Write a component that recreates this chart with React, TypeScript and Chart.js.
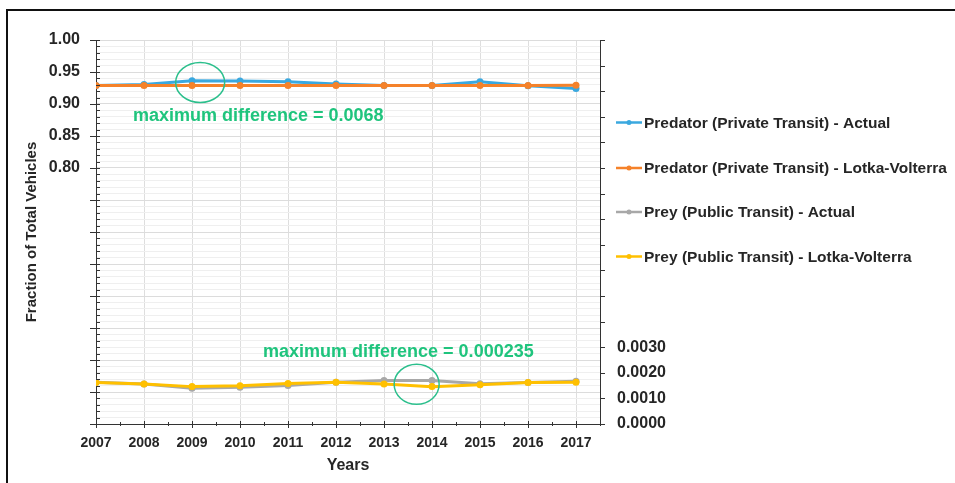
import React, { useEffect, useRef } from 'react';
import { Chart, registerables } from 'chart.js';

Chart.register(...registerables);

const years = [2007, 2008, 2009, 2010, 2011, 2012, 2013, 2014, 2015, 2016, 2017];
const predatorActual = [0.929, 0.9305, 0.9365, 0.936, 0.9347, 0.9312, 0.929, 0.929, 0.9347, 0.9285, 0.9243];
const predatorLV = [0.929, 0.929, 0.929, 0.929, 0.929, 0.929, 0.929, 0.929, 0.929, 0.929, 0.9293];
const preyActual = [0.00163, 0.00156, 0.0014, 0.00144, 0.0015, 0.00163, 0.0017, 0.0017, 0.00157, 0.00162, 0.00167];
const preyLV = [0.00162, 0.00156, 0.00146, 0.00149, 0.00158, 0.00163, 0.00156, 0.00146, 0.00153, 0.00162, 0.00163];
const leftTickLabels = [1.0, 0.95, 0.9, 0.85, 0.8];
const rightTickLabels = [0.003, 0.002, 0.001, 0.0];
const seriesNames = [
  'Predator (Private Transit) - Actual',
  'Predator (Private Transit) - Lotka-Volterra',
  'Prey (Public Transit) - Actual',
  'Prey (Public Transit) - Lotka-Volterra',
];
const seriesColors = ['#3aa8df', '#f5822a', '#a8a8a8', '#ffc000'];
const annotations = [
  { text: 'maximum difference = 0.0068', x: 2007.77, y: 0.8813, axis: 'y' },
  { text: 'maximum difference = 0.000235', x: 2010.48, y: 0.00281, axis: 'y1' },
];
const circles = [
  { x: 2009.17, y: 0.9335, axis: 'y', rx: 24.5, ry: 20 },
  { x: 2013.68, y: 0.00155, axis: 'y1', rx: 22.5, ry: 20 },
];

const FONT = '"Liberation Sans", Arial, sans-serif';
const TEXT = '#262626';
const GREEN = '#1fc47d';

const near = (a: number, b: number) => Math.abs(a - b) < 1e-6;
const isInt = (v: number) => near(v, Math.round(v));

const overlay = {
  id: 'overlay',
  afterDraw(chart: any) {
    const ctx = chart.ctx;
    const xs = chart.scales.x;
    const ys = chart.scales.y;
    const y1 = chart.scales.y1;
    const area = chart.chartArea;
    ctx.save();
    ctx.strokeStyle = '#333';
    ctx.lineWidth = 1;
    ys.ticks.forEach((t: any) => {
      const py = Math.round(ys.getPixelForValue(t.value)) + 0.5;
      const major = isInt(t.value * 20);
      ctx.beginPath();
      ctx.moveTo(area.left - (major ? 6 : 0), py);
      ctx.lineTo(area.left + 4, py);
      ctx.stroke();
    });
    y1.ticks.forEach((t: any) => {
      const py = Math.round(y1.getPixelForValue(t.value)) + 0.5;
      ctx.beginPath();
      ctx.moveTo(area.right, py);
      ctx.lineTo(area.right + 5, py);
      ctx.stroke();
    });
    for (let k = 0; k <= (years.length - 1) * 2 + 1; k++) {
      const v = years[0] + k * 0.5;
      const px = Math.round(xs.getPixelForValue(v)) + 0.5;
      const major = k % 2 === 0;
      ctx.beginPath();
      ctx.moveTo(px, area.bottom - (major ? 3 : 2));
      ctx.lineTo(px, area.bottom + (major ? 4 : 2));
      ctx.stroke();
    }
    ctx.strokeStyle = '#2bbf8c';
    ctx.lineWidth = 1.5;
    circles.forEach((c) => {
      const cx = xs.getPixelForValue(c.x);
      const cy = chart.scales[c.axis].getPixelForValue(c.y);
      ctx.beginPath();
      ctx.ellipse(cx, cy, c.rx, c.ry, 0, 0, Math.PI * 2);
      ctx.stroke();
    });
    ctx.fillStyle = GREEN;
    ctx.font = `bold 18px ${FONT}`;
    ctx.textAlign = 'left';
    ctx.textBaseline = 'middle';
    annotations.forEach((a) => {
      ctx.fillText(a.text, xs.getPixelForValue(a.x), chart.scales[a.axis].getPixelForValue(a.y));
    });
    const legY = [122.5, 168, 212, 256.5];
    ctx.font = `bold 15.5px ${FONT}`;
    seriesNames.forEach((n, i) => {
      const yy = legY[i];
      ctx.strokeStyle = seriesColors[i];
      ctx.lineWidth = 2.5;
      ctx.beginPath();
      ctx.moveTo(616, yy);
      ctx.lineTo(642, yy);
      ctx.stroke();
      ctx.fillStyle = seriesColors[i];
      ctx.beginPath();
      ctx.arc(629, yy, 2.5, 0, Math.PI * 2);
      ctx.fill();
      ctx.fillStyle = TEXT;
      ctx.fillText(n, 644, yy + 1);
    });
    ctx.fillStyle = TEXT;
    ctx.font = `bold 16px ${FONT}`;
    ctx.textAlign = 'center';
    ctx.fillText('Years', (area.left + area.right) / 2, 466);
    ctx.save();
    ctx.translate(32, (area.top + area.bottom) / 2);
    ctx.rotate(-Math.PI / 2);
    ctx.font = `bold 15px ${FONT}`;
    ctx.fillText('Fraction of Total Vehicles', 0, 0);
    ctx.restore();
    ctx.restore();
  },
};

export default function App() {
  const ref = useRef<HTMLCanvasElement | null>(null);
  useEffect(() => {
    if (!ref.current) return;
    const mk = (label: string, data: number[], color: string, axis: string, order: number) => ({
      label,
      data: years.map((x, i) => ({ x, y: data[i] })),
      borderColor: color,
      backgroundColor: color,
      borderWidth: 3,
      pointRadius: 3.5,
      pointBorderWidth: 0,
      pointBackgroundColor: color,
      yAxisID: axis,
      order,
      tension: 0,
    });
    const chart = new Chart(ref.current, {
      type: 'line',
      data: {
        datasets: [
          mk(seriesNames[0], predatorActual, seriesColors[0], 'y', 4),
          mk(seriesNames[1], predatorLV, seriesColors[1], 'y', 3),
          mk(seriesNames[2], preyActual, seriesColors[2], 'y1', 2),
          mk(seriesNames[3], preyLV, seriesColors[3], 'y1', 1),
        ],
      },
      options: {
        animation: false,
        responsive: false,
        maintainAspectRatio: false,
        layout: { padding: { top: 40, left: 0, right: 0, bottom: 0 } },
        plugins: { legend: { display: false }, tooltip: { enabled: false } },
        scales: {
          x: {
            type: 'linear',
            min: 2007,
            max: 2017.5,
            afterFit: (s: any) => { s.height = 59; },
            afterBuildTicks: (s: any) => { s.ticks = years.map((v) => ({ value: v })); },
            ticks: {
              stepSize: 1,
              includeBounds: false,
              autoSkip: false,
              maxRotation: 0,
              padding: 11,
              color: TEXT,
              font: { family: FONT, size: 14, weight: 'bold' },
              callback: (v: any) => String(Math.round(v)),
            },
            grid: { color: '#dedede', drawTicks: false },
            border: { display: true, color: '#333' },
          },
          y: {
            position: 'left',
            min: 0.4,
            max: 1.0,
            afterFit: (s: any) => { s.width = 96; },
            ticks: {
              stepSize: 0.01,
              maxTicksLimit: 1000,
              autoSkip: false,
              padding: 16,
              color: TEXT,
              font: { family: FONT, size: 16, weight: 'bold' },
              callback: (v: any) => {
                const hit = leftTickLabels.find((l) => near(l, v));
                return hit !== undefined ? hit.toFixed(2) : '';
              },
            },
            grid: {
              drawTicks: false,
              color: (c: any) => {
                const v = c.tick ? c.tick.value : 0;
                return isInt(v * 20) ? '#dcdcdc' : '#efefef';
              },
            },
            border: { display: true, color: '#333' },
          },
          y1: {
            position: 'right',
            min: 0,
            max: 0.015,
            afterFit: (s: any) => { s.width = 355; },
            ticks: {
              stepSize: 0.001,
              maxTicksLimit: 1000,
              autoSkip: false,
              padding: 17,
              color: TEXT,
              font: { family: FONT, size: 16, weight: 'bold' },
              callback: (v: any) => {
                const hit = rightTickLabels.find((l) => near(l, v));
                return hit !== undefined ? hit.toFixed(4) : '';
              },
            },
            grid: { drawOnChartArea: false, drawTicks: false },
            border: { display: true, color: '#333' },
          },
        },
      },
      plugins: [overlay],
    } as any);
    return () => chart.destroy();
  }, []);
  return (
    <div style={{ position: 'fixed', left: 0, top: 0, width: 955, height: 483, background: '#fff' }}>
      <canvas ref={ref} width={955} height={483} style={{ width: 955, height: 483, display: 'block' }} />
      <div
        style={{
          position: 'absolute',
          left: 6,
          top: 9,
          width: 960,
          height: 480,
          borderTop: '2px solid #111',
          borderLeft: '2px solid #111',
          pointerEvents: 'none',
        }}
      />
    </div>
  );
}
